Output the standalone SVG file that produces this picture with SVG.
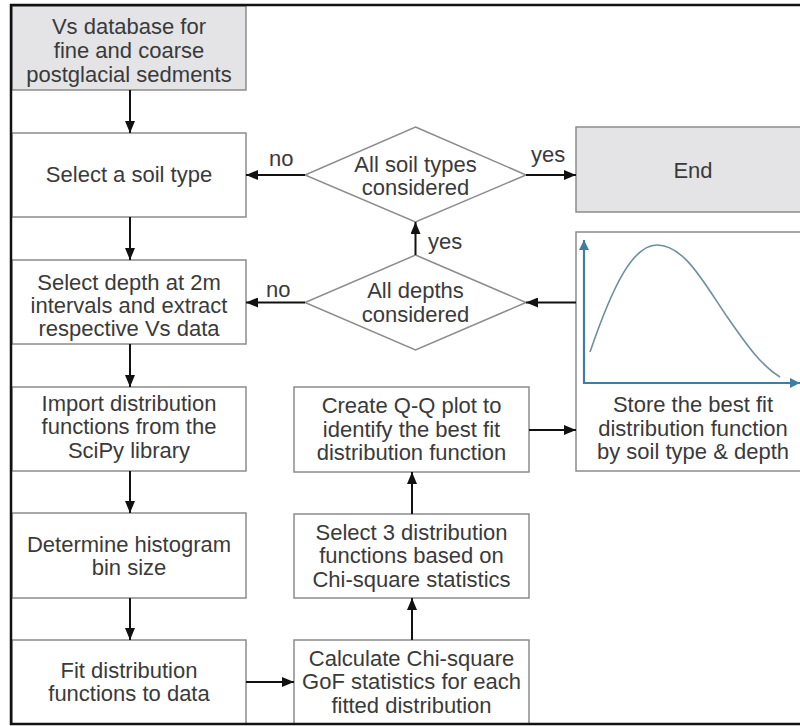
<svg xmlns="http://www.w3.org/2000/svg" width="800" height="726" viewBox="0 0 800 726">
<style>
  .box { fill: #ffffff; stroke: #8c8c8c; stroke-width: 1.5; }
  .grey { fill: #e4e4e6; }
  .t { font-family: "Liberation Sans", Arial, sans-serif; font-size: 22px; fill: #3a3a3a; text-anchor: middle; }
  .lbl { font-family: "Liberation Sans", Arial, sans-serif; font-size: 22px; fill: #3a3a3a; }
  .arr { stroke: #111111; stroke-width: 2; fill: none; marker-end: url(#ah); }
  .axis { stroke: #3f7ea3; stroke-width: 2.2; fill: none; marker-end: url(#ax); }
</style>
<defs>
  <marker id="ah" viewBox="0 0 12 10" refX="12" refY="5" markerWidth="12" markerHeight="10" markerUnits="userSpaceOnUse" orient="auto">
    <path d="M0,0 L12,5 L0,10 Z" fill="#111111"/>
  </marker>
  <marker id="ax" viewBox="0 0 10 10" refX="10" refY="5" markerWidth="10" markerHeight="10" markerUnits="userSpaceOnUse" orient="auto">
    <path d="M0,0 L10,5 L0,10 Z" fill="#3f7ea3"/>
  </marker>
</defs>
<rect x="0" y="0" width="800" height="726" fill="#ffffff"/>

<g id="n-database">
  <rect class="box grey" x="12" y="6" width="234" height="84"/>
  <text class="t" x="129" y="34">Vs database for</text>
  <text class="t" x="129" y="58">fine and coarse</text>
  <text class="t" x="129" y="82">postglacial sedments</text>
</g>
<g id="n-soiltype">
  <rect class="box" x="12" y="133" width="234" height="84"/>
  <text class="t" x="129" y="182">Select a soil type</text>
</g>
<g id="n-depth">
  <rect class="box" x="12" y="260" width="234" height="84"/>
  <text class="t" x="129" y="290">Select depth at 2m</text>
  <text class="t" x="129" y="313">intervals and extract</text>
  <text class="t" x="129" y="336">respective Vs data</text>
</g>
<g id="n-import">
  <rect class="box" x="12" y="387" width="234" height="84"/>
  <text class="t" x="129" y="411">Import distribution</text>
  <text class="t" x="129" y="434">functions from the</text>
  <text class="t" x="129" y="458">SciPy library</text>
</g>
<g id="n-histogram">
  <rect class="box" x="12" y="513" width="234" height="85"/>
  <text class="t" x="129" y="552">Determine histogram</text>
  <text class="t" x="129" y="575">bin size</text>
</g>
<g id="n-fit">
  <rect class="box" x="12" y="640" width="234" height="84"/>
  <text class="t" x="129" y="678">Fit distribution</text>
  <text class="t" x="129" y="701">functions to data</text>
</g>
<g id="n-chisq">
  <rect class="box" x="294" y="640" width="235" height="84"/>
  <text class="t" x="411.5" y="666">Calculate Chi-square</text>
  <text class="t" x="411.5" y="689">GoF statistics for each</text>
  <text class="t" x="411.5" y="713">fitted distribution</text>
</g>
<g id="n-select3">
  <rect class="box" x="294" y="514" width="235" height="84"/>
  <text class="t" x="411.5" y="540">Select 3 distribution</text>
  <text class="t" x="411.5" y="563">functions based on</text>
  <text class="t" x="411.5" y="587">Chi-square statistics</text>
</g>
<g id="n-qq">
  <rect class="box" x="294" y="387" width="235" height="85"/>
  <text class="t" x="411.5" y="413">Create Q-Q plot to</text>
  <text class="t" x="411.5" y="437">identify the best fit</text>
  <text class="t" x="411.5" y="460">distribution function</text>
</g>
<g id="n-store">
  <rect class="box" x="576" y="232" width="240" height="239"/>
  <line class="axis" x1="584" y1="384" x2="584" y2="240"/>
  <line class="axis" x1="583" y1="383" x2="800" y2="383"/>
  <path d="M590,352 C613,285 633,245 657,245 C685,245 705,285 728,318 C748,347 762,366 780,377" fill="none" stroke="#6f8e9e" stroke-width="1.6"/>
  <text class="t" x="693" y="412">Store the best fit</text>
  <text class="t" x="693" y="436">distribution function</text>
  <text class="t" x="693" y="459">by soil type &amp; depth</text>
</g>
<g id="n-end">
  <rect class="box grey" x="576" y="127" width="240" height="85"/>
  <text class="t" x="693" y="178">End</text>
</g>
<g id="n-allsoil">
  <polygon class="box" points="415.5,127 526,175 415.5,222 305,175"/>
  <text class="t" x="415.5" y="172">All soil types</text>
  <text class="t" x="415.5" y="195">considered</text>
</g>
<g id="n-alldepths">
  <polygon class="box" points="415.5,255 526,302.5 415.5,350 305,302.5"/>
  <text class="t" x="415.5" y="298">All depths</text>
  <text class="t" x="415.5" y="322">considered</text>
</g>

<g id="connectors">
  <line class="arr" x1="130" y1="90" x2="130" y2="133"/>
  <line class="arr" x1="130" y1="217" x2="130" y2="260"/>
  <line class="arr" x1="130" y1="344" x2="130" y2="387"/>
  <line class="arr" x1="130" y1="471" x2="130" y2="513"/>
  <line class="arr" x1="130" y1="598" x2="130" y2="640"/>
  <line class="arr" x1="246" y1="682" x2="294" y2="682"/>
  <line class="arr" x1="412" y1="640" x2="412" y2="598"/>
  <line class="arr" x1="412" y1="514" x2="412" y2="472"/>
  <line class="arr" x1="529" y1="430" x2="576" y2="430"/>
  <line class="arr" x1="576" y1="302.5" x2="526" y2="302.5"/>
  <line class="arr" x1="305" y1="302.5" x2="246" y2="302.5"/>
  <line class="arr" x1="415.5" y1="255" x2="415.5" y2="222"/>
  <line class="arr" x1="305" y1="175" x2="246" y2="175"/>
  <line class="arr" x1="526" y1="175" x2="576" y2="175"/>
  <text class="lbl" x="269" y="166">no</text>
  <text class="lbl" x="266" y="297">no</text>
  <text class="lbl" x="531" y="162">yes</text>
  <text class="lbl" x="428" y="249">yes</text>
</g>

<path d="M800,5 L11,5 L11,724 L800,724" fill="none" stroke="#111111" stroke-width="2.5"/>
</svg>
